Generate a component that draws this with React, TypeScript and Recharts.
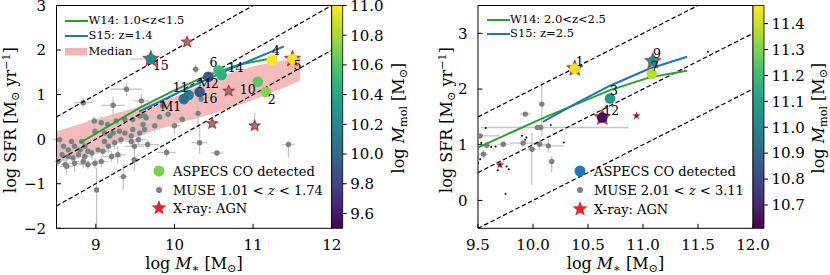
import { ComposedChart, Scatter, Area, XAxis, YAxis, ErrorBar, ReferenceArea } from 'recharts'

const FONT = '"DejaVu Serif", "Liberation Serif", serif'
const W = 830
const H = 275
const THIN = 0.01

// ---------- left panel: 1.0 < z < 1.7 ----------
const lowXDomain = [8.5, 12]
const lowYDomain = [-2, 3]
const lowXTicks = [9, 10, 11, 12]
const lowYTicks = [-2, -1, 0, 1, 2, 3]
const lowMolDomain = [9.5, 11.0]
const lowMolTicks = [9.6, 9.8, 10.0, 10.2, 10.4, 10.6, 10.8, 11.0]

// MUSE galaxies [logM*, logSFR, xerr, yerr]
type Err = number | number[]
const museLow: [number, number, Err, Err][] = [
  [8.52, -0.5, 0.05, 0.1], [8.54, -0.01, 0.08, 0.12], [8.57, -0.35, 0.06, 0.15], [8.59, -0.16, 0.1, 0.1],
  [8.61, -0.57, 0.05, 0.12], [8.63, -0.61, 0.08, 0.2], [8.65, -0.24, 0.12, 0.1], [8.65, -0.39, 0.05, 0.08],
  [8.69, -0.05, 0.1, 0.15], [8.71, -0.42, 0.06, 0.1], [8.73, -0.16, 0.08, 0.12], [8.73, -0.54, 0.1, 0.2],
  [8.78, -0.35, 0.05, 0.1], [8.8, -0.24, 0.15, 0.1], [8.82, -0.05, 0.1, 0.15], [8.84, 0.82, 0.12, 0.1],
  [8.84, -0.5, 0.08, 0.15], [8.86, -0.16, 0.06, 0.2], [8.86, -0.39, 0.1, 0.12], [8.9, -0.27, 0.05, 0.1],
  [8.9, -0.57, 0.12, 0.1], [8.95, -0.31, 0.1, 0.15], [8.98, 0.41, 0.08, 0.1], [8.99, 0.18, 0.1, 0.2],
  [8.99, -0.54, 0.06, 0.12], [9.01, -1.14, 0.03, [0.86, 0.5]], [9.03, -0.24, 0.12, 0.1], [9.07, 0.37, 0.1, 0.15],
  [9.07, -0.5, 0.08, 0.12], [9.09, -0.27, 0.1, 0.1], [9.11, 0.14, 0.15, 0.12], [9.11, -0.05, 0.06, 0.2],
  [9.15, 0.33, 0.1, 0.1], [9.16, -0.16, 0.08, 0.15], [9.18, 0.07, 0.1, 0.1], [9.2, -0.39, 0.12, 0.12],
  [9.22, 0.14, 0.1, 0.1], [9.22, 0.76, 0.15, 0.2], [9.24, -0.08, 0.08, 0.15], [9.26, 0.41, 0.12, 0.1],
  [9.28, -0.35, 0.1, 0.2], [9.3, 0.18, 0.06, 0.12], [9.32, -0.01, 0.1, 0.1], [9.35, -0.84, 0.05, 0.3],
  [9.37, 0.44, 0.1, 0.15], [9.37, 0.14, 0.12, 0.1], [9.39, 1.12, 0.2, 0.15], [9.45, 0.07, 0.1, 0.12],
  [9.45, -0.05, 0.08, 0.1], [9.47, 0.44, 0.15, 0.2], [9.47, 0.22, 0.1, 0.1], [9.49, -0.16, 0.12, 0.15],
  [9.49, -0.46, 0.05, 0.25], [9.54, -0.01, 0.1, 0.1], [9.56, 0.52, 0.12, 0.12], [9.56, 0.14, 0.08, 0.2],
  [9.58, 0.86, 0.1, 0.15], [9.6, 0.33, 0.1, 0.1], [9.62, 0.22, 0.15, 0.12], [9.62, 0.52, 0.08, 0.1],
  [9.64, 0.48, 0.1, 0.2], [9.66, -0.12, 0.15, 0.1], [9.7, 1.8, [0.25, 0], 0], [9.75, 0.3, 0.1, 0.15],
  [9.81, 0.5, 0.1, 0.15], [9.85, 0.75, 0.1, 0.1], [9.9, -0.3, 0.12, 0.1], [9.92, 0.56, 0.1, 0.12],
  [10.0, 0.3, 0.08, 0.2], [10.1, 0.45, 0.1, 0.1], [10.27, 1.57, 0.05, 0.1], [10.3, 0.58, 0.05, 0.3],
  [10.32, -0.08, 0.1, [0.25, 0.35]], [10.34, 0.9, 0.08, 0.15], [10.54, -0.31, 0.08, 0.03],
  [11.45, -0.12, 0.08, [0.3, 0]], [10.48, 0.35, 0.03, [0.05, 0.2]], [11.02, 0.3, 0.03, [0.1, 0.3]],
]
// MUSE X-ray AGN
const museLowAgn = [[10.16, 2.18], [10.69, 1.08], [10.48, 0.35], [11.02, 0.3]]

// ASPECS CO detections
const aspecsLow = [
  { name: '15', x: 9.7, y: 1.8, mol: 10.2, agn: true },
  { name: '4', x: 11.24, y: 1.78, mol: 11.0, agn: false },
  { name: '5', x: 11.5, y: 1.8, mol: 10.98, agn: true },
  { name: '6', x: 10.56, y: 1.54, mol: 10.52, agn: false },
  { name: '14', x: 10.6, y: 1.44, mol: 10.45, agn: false },
  { name: 'M2', x: 10.43, y: 1.4, mol: 9.9, agn: false },
  { name: '16', x: 10.32, y: 1.06, mol: 9.92, agn: false },
  { name: '11', x: 10.18, y: 0.99, mol: 10.13, agn: false },
  { name: 'M1', x: 10.12, y: 0.9, mol: 10.04, agn: false },
  { name: '10', x: 11.06, y: 1.29, mol: 10.62, agn: false },
  { name: '2', x: 11.16, y: 1.06, mol: 10.73, agn: false },
]

const medianMass = [8.5, 9.0, 9.5, 10.0, 10.5, 11.0, 11.6]
const medianLo = [-0.54, -0.25, 0.05, 0.33, 0.58, 0.88, 1.31]
const medianHi = [0.18, 0.45, 0.7, 0.95, 1.35, 1.63, 1.82]

const w14Low = [[8.8, -0.08], [9.2, 0.33], [9.56, 0.71], [9.98, 1.08], [10.4, 1.42], [10.82, 1.67], [11.3, 1.84]]
const s15Low = [[9.55, 0.62], [9.98, 0.99], [10.4, 1.33], [10.82, 1.66], [11.24, 1.97], [11.39, 2.08]]
const msLowLines = [
  [[8.5, 0.5], [11, 3]],
  [[8.5, -0.5], [12, 3]],
  [[8.5, -1.5], [12, 2]],
]

// ---------- right panel: 2.0 < z < 3.1 ----------
const highXDomain = [9.5, 12]
const highYDomain = [-0.5, 3.5]
const highXTicks = [9.5, 10.0, 10.5, 11.0, 11.5, 12.0]
const highYTicks = [0, 1, 2, 3]
const highMolDomain = [10.61, 11.47]
const highMolTicks = [10.7, 10.8, 10.9, 11.0, 11.1, 11.2, 11.3, 11.4]

const museHigh: [number, number, Err, Err][] = [
  [9.52, 1.16, [0.02, 0.18], 0.05], [9.58, 0.99, 0.05, 0.06], [9.55, 0.83, 0.04, 0.08],
  [9.73, 1.01, 0.05, 0.05], [9.93, 1.55, 0.05, 0.03], [9.91, 1.03, 0.12, 0.06],
  [9.99, 0.92, 0.04, [0.64, 0.29]], [10.06, 1.01, 0.06, 0.1], [10.07, 1.31, [0.55, 0.8], 0.05],
  [10.04, 1.31, 0, 0], [10.08, 1.73, 0.03, [0.58, 0.4]], [10.14, 0.98, [0.08, 0.14], 0.12],
  [10.17, 0.7, 0.03, [0.2, 0.1]],
]
const photHigh = [
  [9.57, 1.3], [10.16, 1.36], [10.28, 1.04], [9.75, 0.12], [9.62, 0.96], [9.66, 0.97], [9.5, 0.67],
  [9.52, 0.74], [9.9, 1.16], [9.94, 1.13], [9.93, 1.09], [9.76, 0.61], [9.78, 0.56], [9.53, 1.03],
  [9.68, 0.54], [11.59, 2.67],
]
const museHighAgn = [[10.94, 1.52], [9.7, 0.64]]

const aspecsHigh = [
  { name: '1', x: 10.38, y: 2.37, mol: 11.44, agn: true },
  { name: '12', x: 10.63, y: 1.49, mol: 10.64, agn: true },
  { name: '9', x: 11.09, y: 2.5, mol: 11.04, agn: true },
  { name: '3', x: 10.7, y: 1.83, mol: 11.07, agn: false },
  { name: '7', x: 11.08, y: 2.27, mol: 11.38, agn: false },
]

const w14High = [[9.5, 0.95], [10.08, 1.47], [10.7, 1.98], [11.06, 2.21], [11.4, 2.33]]
const s15High = [[10.09, 1.41], [10.4, 1.75], [10.7, 2.06], [11.05, 2.36], [11.4, 2.58]]
const msHighLines = [
  [[9.5, 1.5], [11.5, 3.5]],
  [[9.5, 0.5], [12, 3]],
  [[9.5, -0.5], [12, 2]],
]

// label placement around the ASPECS markers (px)
const LABEL_OFFSET: Record<string, [number, number]> = {
  '15': [10, 7], '4': [4, -9], '5': [5, 7], '6': [-5, -8], '14': [14, -8], M2: [0, 7],
  '16': [10, 7], '11': [-8, -8], M1: [-13, 7], '10': [-10, 8], '2': [6, 8],
  '1': [5, -7], '3': [4, -8], '12': [9, -7], '7': [3, -8], '9': [4, -8],
}

const VIRIDIS = ['#440154', '#482475', '#414487', '#355f8d', '#2a788e', '#21918c', '#22a884', '#44bf70', '#7ad151', '#bddf26', '#fde725']
const GREEN = '#2ca02c'
const BLUE = '#1f77b4'
const RED = '#e4262c'
const GRAY = '#808080'
const ERR = '#c6c6c6'

function viridis(t: number) {
  const c = Math.max(0, Math.min(1, t)) * 10
  const i = Math.min(9, Math.floor(c))
  const f = c - i
  const a = VIRIDIS[i], b = VIRIDIS[i + 1]
  const ch = (s: string, k: number) => parseInt(s.slice(1 + 2 * k, 3 + 2 * k), 16)
  const mix = [0, 1, 2].map(k => Math.round(ch(a, k) + (ch(b, k) - ch(a, k)) * f))
  return `rgb(${mix.join(',')})`
}

function starPoints(cx: number, cy: number, R: number, r: number) {
  const pts: string[] = []
  for (let i = 0; i < 10; i++) {
    const ang = -Math.PI / 2 + (i * Math.PI) / 5
    const rad = i % 2 === 0 ? R : r
    pts.push(`${(cx + rad * Math.cos(ang)).toFixed(2)},${(cy + rad * Math.sin(ang)).toFixed(2)}`)
  }
  return pts.join(' ')
}

const steps = (a: number, b: number, s: number) => {
  const out: number[] = []
  for (let v = a; v <= b + 1e-9; v += s) out.push(+v.toFixed(2))
  return out
}
const notOn = (step: number) => (v: number) => Math.abs(v / step - Math.round(v / step)) > 1e-6

const tickFont = { fontSize: 15, fill: '#000', fontFamily: FONT }
const fmtSigned = (v: number) => (v < 0 ? '\u2212' + Math.abs(v) : String(v))
const fmt1 = (v: number) => v.toFixed(1)
const spine = { stroke: '#000', strokeWidth: 1 }

function frameAxes(xDomain: number[], yDomain: number[], xTicks: number[], xMinor: number[], yTicks: number[], yMinor: number[], xFmt: (v: number) => string) {
  const base = { type: 'number' as const, allowDataOverflow: true, interval: 0 as const }
  return [
    <XAxis key="xb" xAxisId={0} dataKey="x" {...base} domain={xDomain} ticks={xTicks} height={THIN} tickSize={-4.5} tickMargin={15.5} tick={tickFont} tickFormatter={xFmt} axisLine={spine} tickLine={spine} />,
    <XAxis key="xbm" xAxisId="xbm" {...base} domain={xDomain} ticks={xMinor} height={THIN} tickSize={-2.5} tick={false} axisLine={false} tickLine={spine} />,
    <XAxis key="xt" xAxisId="xt" orientation="top" {...base} domain={xDomain} ticks={xTicks} height={THIN} tickSize={-4.5} tick={false} axisLine={spine} tickLine={spine} />,
    <XAxis key="xtm" xAxisId="xtm" orientation="top" {...base} domain={xDomain} ticks={xMinor} height={THIN} tickSize={-2.5} tick={false} axisLine={false} tickLine={spine} />,
    <YAxis key="yl" yAxisId={0} dataKey="y" {...base} domain={yDomain} ticks={yTicks} width={THIN} tickSize={-4.5} tickMargin={15} tick={tickFont} tickFormatter={fmtSigned} axisLine={spine} tickLine={spine} />,
    <YAxis key="ylm" yAxisId="ylm" {...base} domain={yDomain} ticks={yMinor} width={THIN} tickSize={-2.5} tick={false} axisLine={false} tickLine={spine} />,
    <YAxis key="yr" yAxisId="yr" orientation="right" {...base} domain={yDomain} ticks={yTicks} width={THIN} tickSize={-4.5} tick={false} axisLine={spine} tickLine={spine} />,
    <YAxis key="yrm" yAxisId="yrm" orientation="right" {...base} domain={yDomain} ticks={yMinor} width={THIN} tickSize={-2.5} tick={false} axisLine={false} tickLine={spine} />,
  ]
}

const toPts = (arr: number[][]) => arr.map(([x, y]) => ({ x, y }))
const toErr = (arr: [number, number, Err, Err][]) => arr.map(([x, y, ex, ey]) => ({ x, y, ex, ey }))
const empty = () => <g />

const GrayDot = (p: any) => <circle cx={p.cx} cy={p.cy} r={2.7} fill={GRAY} />
const BlackDot = (p: any) => <circle cx={p.cx} cy={p.cy} r={1} fill="#000" />
const AgnMuse = (p: any) => (
  <g>
    <polygon points={starPoints(p.cx, p.cy, 6.2, 2.7)} fill={RED} stroke="#c41a1f" strokeWidth={0.6} />
    <circle cx={p.cx} cy={p.cy} r={2.7} fill={GRAY} />
  </g>
)
const AgnSmall = (p: any) => (
  <g>
    <polygon points={starPoints(p.cx, p.cy, 4.4, 1.9)} fill={RED} />
    <circle cx={p.cx} cy={p.cy} r={1.1} fill="#000" />
  </g>
)
const AgnBig = (p: any) =>
  p.payload.agn ? <polygon points={starPoints(p.cx, p.cy, 8.6, 3.7)} fill={RED} stroke="#c41a1f" strokeWidth={0.6} /> : <g />
const makeCircle = (dom: number[]) => (p: any) => (
  <circle cx={p.cx} cy={p.cy} r={5.3} fill={viridis((p.payload.mol - dom[0]) / (dom[1] - dom[0]))} />
)
const NameLabel = (p: any) => {
  const [dx, dy] = LABEL_OFFSET[p.payload.name] ?? [6, -6]
  return (
    <text x={p.cx + dx} y={p.cy + dy} textAnchor="middle" dominantBaseline="central" fontSize={12.5} fontFamily={FONT} fill="#000">
      {p.payload.name}
    </text>
  )
}

const dashed = { stroke: '#000', strokeWidth: 1.2, strokeDasharray: '4.5 2.5' }

function Colorbar({ left, domain, ticks, gradId }: { left: number; domain: number[]; ticks: number[]; gradId: string }) {
  return (
    <div style={{ position: 'absolute', left: 0, top: 0 }}>
      <ComposedChart width={W} height={H} data={[{ x: 0 }, { x: 1 }]} margin={{ top: 5.5, bottom: H - 228.3, left, right: W - left - 11 - THIN }}>
        <XAxis dataKey="x" type="number" domain={[0, 1]} hide />
        <YAxis orientation="right" type="number" domain={domain} allowDataOverflow ticks={ticks} interval={0} width={THIN} tickSize={4} tickMargin={3.5} tick={tickFont} tickFormatter={fmt1} axisLine={false} tickLine={spine} />
        <ReferenceArea y1={domain[0]} y2={domain[1]} fill={`url(#${gradId})`} fillOpacity={1} stroke="#000" strokeWidth={0.8} ifOverflow="visible" />
      </ComposedChart>
    </div>
  )
}

const abs = (extra: React.CSSProperties): React.CSSProperties => ({ position: 'absolute', whiteSpace: 'nowrap', fontFamily: FONT, color: '#000', lineHeight: 1, ...extra })
const subS: React.CSSProperties = { fontSize: '70%', verticalAlign: '-0.3em', lineHeight: 0 }
const supS: React.CSSProperties = { fontSize: '70%', verticalAlign: '0.55em', lineHeight: 0 }

function YTitle({ x, y }: { x: number; y: number }) {
  return (
    <div style={abs({ left: x, top: y, fontSize: 16, transform: 'translate(-50%, -50%) rotate(-90deg)' })}>
      log SFR [M<span style={subS}>⊙</span> yr<span style={supS}>−1</span>]
    </div>
  )
}
function XTitle({ x, y }: { x: number; y: number }) {
  return (
    <div style={abs({ left: x, top: y, fontSize: 16, transform: 'translate(-50%, -50%)' })}>
      log <i>M</i><span style={subS}>∗</span> [M<span style={subS}>⊙</span>]
    </div>
  )
}
function CbTitle({ x, y }: { x: number; y: number }) {
  return (
    <div style={abs({ left: x, top: y, fontSize: 16, transform: 'translate(-50%, -50%) rotate(-90deg)' })}>
      log <i>M</i><span style={subS}>mol</span> [M<span style={subS}>⊙</span>]
    </div>
  )
}

function LineKey({ x, y, color, children }: { x: number; y: number; color: string; children: React.ReactNode }) {
  return (
    <>
      <svg style={{ position: 'absolute', left: x, top: y - 2 }} width={24} height={4}>
        <line x1={0} y1={2} x2={23} y2={2} stroke={color} strokeWidth={2} />
      </svg>
      <div style={abs({ left: x + 23.5, top: y, fontSize: 11.5, transform: 'translateY(-50%)' })}>{children}</div>
    </>
  )
}

function MarkerKey({ x, y, kind, color, children }: { x: number; y: number; kind: 'big' | 'dot' | 'star'; color?: string; children: React.ReactNode }) {
  return (
    <>
      <svg style={{ position: 'absolute', left: x - 9, top: y - 9 }} width={18} height={18}>
        {kind === 'big' && <circle cx={9} cy={9} r={5.5} fill={color} />}
        {kind === 'dot' && <circle cx={9} cy={9} r={3} fill={GRAY} />}
        {kind === 'star' && <polygon points={starPoints(9, 9, 8, 3.4)} fill={RED} />}
      </svg>
      <div style={abs({ left: x + 14, top: y, fontSize: 13, transform: 'translateY(-50%)' })}>{children}</div>
    </>
  )
}

export default function App() {
  const bandRows = medianMass.map((x, i) => ({ x, band: [medianLo[i], medianHi[i]] }))
  const lowMinorX = steps(8.6, 12, 0.2).filter(notOn(1))
  const lowMinorY = steps(-2, 3, 0.2).filter(notOn(1))
  const highMinorX = steps(9.5, 12, 0.1).filter(notOn(0.5))
  const highMinorY = steps(-0.4, 3.4, 0.2).filter(notOn(1))
  const lowCircle = makeCircle(lowMolDomain)
  const highCircle = makeCircle(highMolDomain)
  const m = (l: number, r: number) => ({ top: 5.5 - THIN * 2, bottom: H - 228.3 - THIN * 2, left: l - THIN * 2, right: W - r - THIN * 2 })

  return (
    <div style={{ position: 'absolute', left: 0, top: 0, width: W, height: H, background: '#fff', overflow: 'hidden', fontFamily: FONT }}>
      <svg width={0} height={0} style={{ position: 'absolute' }}>
        <defs>
          {['vir1', 'vir2'].map(id => (
            <linearGradient key={id} id={id} x1="0" y1="1" x2="0" y2="0">
              {VIRIDIS.map((c, i) => (
                <stop key={i} offset={`${i * 10}%`} stopColor={c} />
              ))}
            </linearGradient>
          ))}
        </defs>
      </svg>

      {/* left panel */}
      <div style={{ position: 'absolute', left: 0, top: 0 }}>
        <ComposedChart width={W} height={H} data={bandRows} margin={m(56.5, 331.7)}>
          {frameAxes(lowXDomain, lowYDomain, lowXTicks, lowMinorX, lowYTicks, lowMinorY, v => String(v))}
          <Area dataKey="band" type="monotone" stroke="none" fill="#f4b4b4" fillOpacity={0.9} isAnimationActive={false} />
          <Scatter data={toErr(museLow)} shape={GrayDot} isAnimationActive={false}>
            <ErrorBar dataKey="ex" direction="x" width={0} stroke={ERR} strokeWidth={1.3} />
            <ErrorBar dataKey="ey" direction="y" width={0} stroke={ERR} strokeWidth={1.3} />
          </Scatter>
          {msLowLines.map((l, i) => (
            <Scatter key={'ms' + i} data={toPts(l)} shape={empty} line={dashed} fill="none" isAnimationActive={false} />
          ))}
          <Scatter data={toPts(w14Low)} shape={empty} line={{ stroke: GREEN, strokeWidth: 2 }} fill="none" isAnimationActive={false} />
          <Scatter data={toPts(s15Low)} shape={empty} line={{ stroke: BLUE, strokeWidth: 2 }} fill="none" isAnimationActive={false} />
          <Scatter data={toPts(museLowAgn)} shape={AgnMuse} isAnimationActive={false} />
          <Scatter data={aspecsLow} shape={AgnBig} isAnimationActive={false} />
          <Scatter data={aspecsLow} shape={lowCircle} isAnimationActive={false} />
          <Scatter data={aspecsLow} shape={NameLabel} isAnimationActive={false} />
        </ComposedChart>
      </div>
      <Colorbar left={331.7} domain={lowMolDomain} ticks={lowMolTicks} gradId="vir1" />

      {/* right panel */}
      <div style={{ position: 'absolute', left: 0, top: 0 }}>
        <ComposedChart width={W} height={H} margin={m(478, 753)}>
          {frameAxes(highXDomain, highYDomain, highXTicks, highMinorX, highYTicks, highMinorY, fmt1)}
          <Scatter data={toErr(museHigh)} shape={GrayDot} isAnimationActive={false}>
            <ErrorBar dataKey="ex" direction="x" width={0} stroke={ERR} strokeWidth={1.3} />
            <ErrorBar dataKey="ey" direction="y" width={0} stroke={ERR} strokeWidth={1.3} />
          </Scatter>
          <Scatter data={toPts(photHigh)} shape={BlackDot} isAnimationActive={false} />
          {msHighLines.map((l, i) => (
            <Scatter key={'ms' + i} data={toPts(l)} shape={empty} line={dashed} fill="none" isAnimationActive={false} />
          ))}
          <Scatter data={toPts(w14High)} shape={empty} line={{ stroke: GREEN, strokeWidth: 2 }} fill="none" isAnimationActive={false} />
          <Scatter data={toPts(s15High)} shape={empty} line={{ stroke: BLUE, strokeWidth: 2 }} fill="none" isAnimationActive={false} />
          <Scatter data={toPts(museHighAgn)} shape={AgnSmall} isAnimationActive={false} />
          <Scatter data={aspecsHigh} shape={AgnBig} isAnimationActive={false} />
          <Scatter data={aspecsHigh} shape={highCircle} isAnimationActive={false} />
          <Scatter data={aspecsHigh} shape={NameLabel} isAnimationActive={false} />
        </ComposedChart>
      </div>
      <Colorbar left={753} domain={highMolDomain} ticks={highMolTicks} gradId="vir2" />

      {/* titles */}
      <YTitle x={11} y={120} />
      <YTitle x={447} y={120} />
      <XTitle x={194} y={264} />
      <XTitle x={615.5} y={264} />
      <CbTitle x={399} y={118} />
      <CbTitle x={819} y={118} />

      {/* legends */}
      <LineKey x={65} y={20.7} color={GREEN}>W14: 1.0&lt;z&lt;1.5</LineKey>
      <LineKey x={65} y={36} color={BLUE}>S15: z=1.4</LineKey>
      <svg style={{ position: 'absolute', left: 65, top: 48 }} width={22} height={8}>
        <rect x={0} y={0} width={22} height={7.5} fill="#f4b4b4" />
      </svg>
      <div style={abs({ left: 88.5, top: 51.7, fontSize: 11.5, transform: 'translateY(-50%)' })}>Median</div>

      <MarkerKey x={159} y={171} kind="big" color={VIRIDIS[8]}>ASPECS CO detected</MarkerKey>
      <MarkerKey x={159} y={189.5} kind="dot">MUSE 1.01 &lt; <i>z</i> &lt; 1.74</MarkerKey>
      <MarkerKey x={159} y={208} kind="star">X-ray: AGN</MarkerKey>

      <LineKey x={486.5} y={20} color={GREEN}>W14: 2.0&lt;z&lt;2.5</LineKey>
      <LineKey x={486.5} y={34.3} color={BLUE}>S15: z=2.5</LineKey>

      <MarkerKey x={580} y={170.7} kind="big" color={BLUE}>ASPECS CO detected</MarkerKey>
      <MarkerKey x={580} y={190} kind="dot">MUSE 2.01 &lt; <i>z</i> &lt; 3.11</MarkerKey>
      <MarkerKey x={580} y={209} kind="star">X-ray: AGN</MarkerKey>
    </div>
  )
}
